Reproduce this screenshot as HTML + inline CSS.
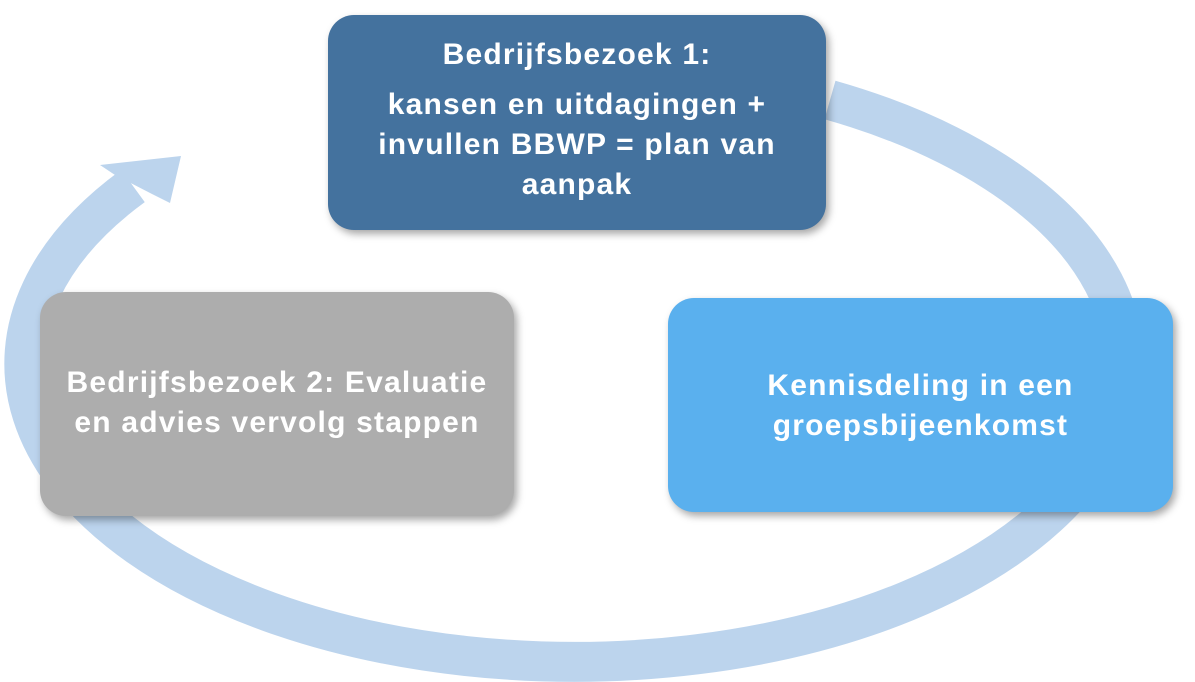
<!DOCTYPE html>
<html><head><meta charset="utf-8"><style>
body{margin:0;width:1195px;height:682px;background:#fff;overflow:hidden;position:relative;font-family:"Liberation Sans",sans-serif}
svg{position:absolute;left:0;top:0}
.b{position:absolute;border-radius:26px;color:#fff;font-weight:bold;font-size:30px;letter-spacing:1.2px;line-height:40px;text-align:center;display:flex;flex-direction:column;justify-content:center;box-shadow:3px 4px 8px rgba(0,0,0,0.35)}
</style></head><body>
<svg width="1195" height="682">
<path d="M830 100 A550 298 0 1 1 133 186" fill="none" stroke="#bcd4ed" stroke-width="40"/>
<polygon points="181,156 170,203 152,194 115,175 100,165" fill="#bcd4ed"/>
</svg>
<div class="b" style="left:328px;top:15px;width:498px;height:215px;background:#44729e;justify-content:flex-start">
<div style="margin-top:20px">Bedrijfsbezoek 1:</div>
<div style="margin-top:10px">kansen en uitdagingen +<br>invullen BBWP = plan van<br>aanpak</div></div>
<div class="b" style="left:40px;top:292px;width:474px;height:224px;background:#adadad;justify-content:flex-start"><div style="margin-top:71px">Bedrijfsbezoek 2: Evaluatie<br>en advies vervolg stappen</div></div>
<div class="b" style="left:668px;top:298px;width:505px;height:214px;background:#5ab0ee;justify-content:flex-start"><div style="margin-top:68px">Kennisdeling in een<br>groepsbijeenkomst</div></div>
</body></html>
